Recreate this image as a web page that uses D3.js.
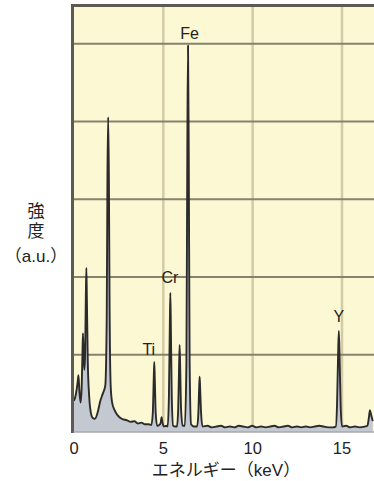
<!DOCTYPE html>
<html>
<head>
<meta charset="utf-8">
<script src="https://cdn.jsdelivr.net/npm/d3@7"></script>
<style>
  html, body { margin: 0; padding: 0; background: #ffffff; }
  svg { display: block; }
  text { font-family: "Liberation Sans", Arial, "Noto Sans CJK JP", sans-serif; fill: #222; }
</style>
</head>
<body>
<svg id="chart" width="374" height="481"></svg>
<script>
// EDS spectrum: energy (keV) and intensity (a.u.) sampled along the trace
const energyKeV = [
  0.02, 0.10, 0.18, 0.24, 0.28, 0.33, 0.40, 0.46, 0.50, 0.53, 0.57, 0.61,
  0.65, 0.69, 0.72, 0.75, 0.80, 0.88, 0.97, 1.08, 1.20, 1.35, 1.50, 1.65,
  1.78, 1.86, 1.90, 1.94, 1.98, 2.02, 2.08, 2.16, 2.30, 2.45, 2.70, 3.00,
  3.20, 3.40, 3.60, 3.80, 4.00, 4.20, 4.36, 4.44, 4.49, 4.52, 4.55, 4.60,
  4.68, 4.80, 4.88, 4.93, 4.98, 5.06, 5.20, 5.27, 5.34, 5.39, 5.42, 5.45,
  5.50, 5.58, 5.70, 5.79, 5.86, 5.91, 5.94, 5.97, 6.02, 6.11, 6.23, 6.32,
  6.37, 6.41, 6.45, 6.50, 6.58, 6.75, 6.92, 6.99, 7.03, 7.06, 7.09, 7.14,
  7.22, 7.50, 7.75, 8.00, 8.25, 8.50, 8.75, 9.00, 9.25, 9.50, 9.75, 10.00,
  10.25, 10.50, 10.75, 11.00, 11.25, 11.50, 11.75, 12.00, 12.25, 12.50,
  12.75, 13.00, 13.25, 13.50, 13.75, 14.00, 14.25, 14.50, 14.68, 14.75,
  14.81, 14.85, 14.89, 14.95, 15.03, 15.25, 15.50, 15.75, 16.00, 16.30,
  16.45, 16.53, 16.59, 16.66, 16.75
];
const intensity = [
  0.40, 0.45, 0.55, 0.66, 0.73, 0.52, 0.38, 0.60, 1.00, 1.27, 0.95, 0.80,
  1.00, 1.75, 2.11, 1.70, 0.90, 0.45, 0.25, 0.18, 0.17, 0.25, 0.40, 0.50,
  0.60, 1.50, 3.30, 4.05, 3.30, 1.60, 0.60, 0.38, 0.28, 0.22, 0.17, 0.15,
  0.13, 0.14, 0.11, 0.12, 0.10, 0.10, 0.09, 0.25, 0.68, 0.90, 0.68, 0.25,
  0.08, 0.09, 0.12, 0.19, 0.12, 0.07, 0.08, 0.07, 0.45, 1.35, 1.79, 1.35,
  0.45, 0.08, 0.07, 0.07, 0.30, 0.85, 1.12, 0.85, 0.30, 0.08, 0.08, 0.90,
  3.60, 4.97, 3.60, 0.90, 0.10, 0.07, 0.07, 0.25, 0.55, 0.71, 0.55, 0.25,
  0.07, 0.08, 0.06, 0.07, 0.08, 0.06, 0.07, 0.06, 0.08, 0.07, 0.06, 0.08,
  0.06, 0.07, 0.06, 0.07, 0.08, 0.06, 0.07, 0.08, 0.06, 0.07, 0.06,
  0.07, 0.06, 0.07, 0.08, 0.07, 0.06, 0.06, 0.07, 0.35,
  1.00, 1.30, 1.00, 0.35, 0.07, 0.08, 0.06, 0.07, 0.06, 0.07,
  0.08, 0.18, 0.28, 0.22, 0.14
];

// Element labels placed over their peaks
const peakNames = ["Ti", "Cr", "Fe", "Y"];
const peakEnergy = [4.52, 5.42, 6.41, 14.85];
const peakHeight = [0.90, 1.79, 4.97, 1.30];

// Axis ticks
const xTicks = [0, 5, 10, 15];
const yGridTicks = [1, 2, 3, 4, 5];

const svg = d3.select("#chart");
const plotLeft = 73.5, plotRight = 374, plotTop = 5.5, plotBottom = 432;

const x = d3.scaleLinear().domain([0, 15]).range([73.5, 341.5]);
const y = d3.scaleLinear().domain([0, 5]).range([plotBottom, 43.25]);

// plot background
svg.append("rect")
  .attr("x", plotLeft).attr("y", plotTop)
  .attr("width", plotRight - plotLeft + 2).attr("height", plotBottom - plotTop)
  .attr("fill", "#fdf8d4");

svg.append("clipPath").attr("id", "plotClip")
  .append("rect")
  .attr("x", plotLeft).attr("y", plotTop)
  .attr("width", plotRight - plotLeft + 2).attr("height", plotBottom - plotTop);

// vertical grid
svg.append("g")
  .attr("transform", `translate(0,${plotBottom})`)
  .call(d3.axisBottom(x).tickValues([5, 10, 15]).tickSize(-(plotBottom - plotTop)).tickFormat(""))
  .call(g => g.select(".domain").remove())
  .call(g => g.selectAll("line").attr("stroke", "#d3cba5").attr("stroke-width", 2.5));

// horizontal grid
svg.append("g")
  .attr("transform", `translate(${plotLeft},0)`)
  .call(d3.axisLeft(y).tickValues(yGridTicks).tickSize(-(plotRight - plotLeft + 2)).tickFormat(""))
  .call(g => g.select(".domain").remove())
  .call(g => g.selectAll("line").attr("stroke", "#87826c").attr("stroke-width", 1.8));

// spectrum
const pts = energyKeV.map((e, i) => [e, intensity[i]]);
const area = d3.area()
  .x(d => x(d[0])).y0(plotBottom).y1(d => y(d[1]))
  .curve(d3.curveMonotoneX);
const line = d3.line()
  .x(d => x(d[0])).y(d => y(d[1]))
  .curve(d3.curveMonotoneX);

const spec = svg.append("g").attr("clip-path", "url(#plotClip)");
spec.append("path").datum(pts).attr("d", area).attr("fill", "#c4c8d0");
spec.append("path").datum(pts).attr("d", line)
  .attr("fill", "none").attr("stroke", "#2b2b2b").attr("stroke-width", 1.9)
  .attr("stroke-linejoin", "round");

// frame: left and top edges dark, bottom light
svg.append("line").attr("x1", plotLeft - 1).attr("x2", plotLeft - 1)
  .attr("y1", plotTop - 1.5).attr("y2", plotBottom + 1)
  .attr("stroke", "#5b5a55").attr("stroke-width", 3);
svg.append("line").attr("x1", plotLeft - 2.5).attr("x2", plotRight)
  .attr("y1", plotTop).attr("y2", plotTop)
  .attr("stroke", "#5b5a55").attr("stroke-width", 3);
svg.append("line").attr("x1", plotLeft).attr("x2", plotRight)
  .attr("y1", plotBottom).attr("y2", plotBottom)
  .attr("stroke", "#a9a9a9").attr("stroke-width", 1.5);

// peak labels
const labelDx = [-5.5, -0.5, 1.5, 0];
const labelDy = [-7, -10, -7, -9];
svg.append("g").selectAll("text")
  .data(peakNames)
  .join("text")
  .attr("x", (d, i) => x(peakEnergy[i]) + labelDx[i])
  .attr("y", (d, i) => y(peakHeight[i]) + labelDy[i])
  .attr("text-anchor", "middle")
  .attr("font-size", 16)
  .text(d => d);

// x axis tick labels
svg.append("g")
  .attr("transform", `translate(0,${plotBottom})`)
  .call(d3.axisBottom(x).tickValues(xTicks).tickSize(0).tickPadding(10).tickFormat(d3.format("d")))
  .call(g => g.select(".domain").remove())
  .call(g => g.selectAll("text").attr("font-size", 16.5).attr("fill", "#222")
    .style("font-family", "'Liberation Sans', Arial, sans-serif"));

// axis titles
svg.append("text")
  .attr("x", 226).attr("y", 476)
  .attr("text-anchor", "middle").attr("font-size", 17)
  .text("エネルギー（keV）");

const yTitle = ["強", "度", "（a.u.）"];
const yTitleBase = [216.5, 236.5, 261.5];
svg.append("g").selectAll("text")
  .data(yTitle)
  .join("text")
  .attr("x", 36)
  .attr("y", (d, i) => yTitleBase[i])
  .attr("text-anchor", "middle")
  .attr("font-size", 17)
  .text(d => d);
</script>
</body>
</html>
